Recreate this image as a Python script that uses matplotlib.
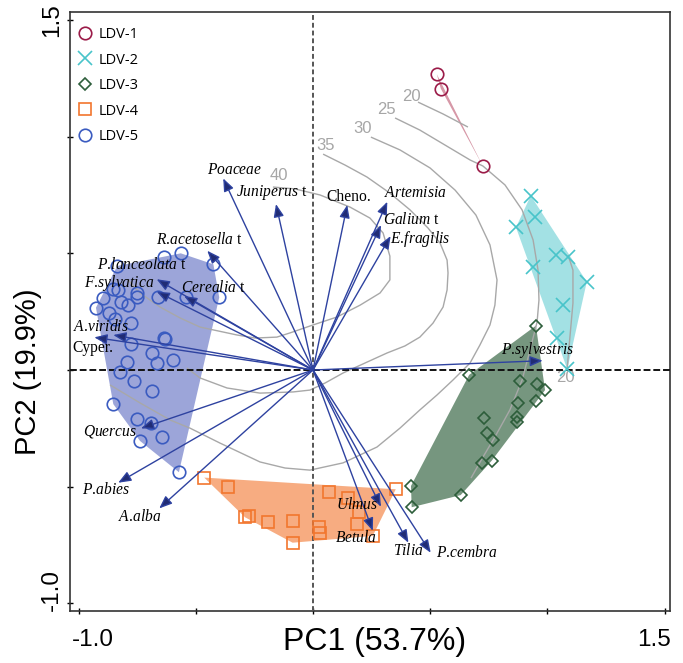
import numpy as np
import matplotlib
matplotlib.use("Agg")
import matplotlib.pyplot as plt

plt.rcParams['mathtext.fontset'] = 'custom'
plt.rcParams['mathtext.it'] = 'Liberation Serif:italic'
plt.rcParams['mathtext.rm'] = 'Liberation Serif'

# ---------------- data ----------------
group_names = ['LDV-1', 'LDV-2', 'LDV-3', 'LDV-4', 'LDV-5']

ldv1_x = [0.528, 0.545, 0.724]
ldv1_y = [1.268, 1.206, 0.875]

ldv2_x = [0.929, 0.948, 0.866, 1.035, 1.089, 0.940, 1.168, 1.068, 1.040, 1.085]
ldv2_y = [0.747, 0.654, 0.611, 0.493, 0.485, 0.440, 0.378, 0.278, 0.136, 0.003]

ldv3_x = [0.951, 0.666, 0.883, 0.954, 0.990, 0.876, 0.950, 0.730, 0.869, 0.869,
          0.741, 0.767, 0.720, 0.762, 0.418, 0.630, 0.421]
ldv3_y = [0.190, -0.021, -0.046, -0.060, -0.086, -0.143, -0.132, -0.207, -0.200, -0.222,
          -0.269, -0.300, -0.397, -0.389, -0.497, -0.536, -0.588]

ldv4_x = [-0.464, -0.364, -0.290, -0.273, -0.191, -0.084, -0.087, 0.027, 0.030,
          0.070, 0.148, 0.196, 0.186, 0.255, 0.353]
ldv4_y = [-0.461, -0.500, -0.631, -0.626, -0.653, -0.647, -0.740, -0.671, -0.698,
          -0.521, -0.547, -0.607, -0.661, -0.711, -0.511]

ldv5_x = [-0.636, -0.564, -0.425, -0.835, -0.852, -0.833, -0.752, -0.750, -0.895, -0.819,
          -0.788, -0.926, -0.870, -0.845, -0.776, -0.660, -0.543, -0.400, -0.636, -0.631,
          -0.776, -0.688, -0.664, -0.596, -0.795, -0.823, -0.764, -0.686, -0.852, -0.752,
          -0.692, -0.738, -0.645, -0.572]
ldv5_y = [0.485, 0.500, 0.453, 0.446, 0.346, 0.343, 0.331, 0.311, 0.307, 0.293,
          0.278, 0.267, 0.243, 0.217, 0.200, 0.314, 0.311, 0.311, 0.138, 0.132,
          0.110, 0.072, 0.031, 0.043, 0.033, -0.007, -0.047, -0.090, -0.146, -0.210,
          -0.226, -0.304, -0.286, -0.438]

species = ['Poaceae', 'Juniperus t', 'Cheno.', 'Artemisia', 'Galium t', 'E.fragilis',
           'R.acetosella t', 'P.lanceolata t', 'F.sylvatica', 'Cerealia t', 'A.viridis',
           'Cyper.', 'Quercus', 'P.abies', 'A.alba', 'Ulmus', 'Betula', 'Tilia',
           'P.cembra', 'P.sylvestris']
species_x = [-0.383, -0.158, 0.146, 0.317, 0.290, 0.331, -0.451, -0.667, -0.667, -0.550,
             -0.852, -0.933, -0.734, -0.831, -0.656, 0.290, 0.255, 0.407, 0.502, 0.980]
species_y = [0.821, 0.711, 0.707, 0.721, 0.621, 0.574, 0.511, 0.389, 0.336, 0.317,
             0.150, 0.140, -0.250, -0.483, -0.593, -0.586, -0.689, -0.740, -0.783, 0.040]

# fitted-surface contour lines
contour_levels = [20, 25, 30, 35, 40, 20]
c20a_x = [0.448, 0.555, 0.661]
c20a_y = [1.148, 1.097, 1.041]
c25_x = [0.350, 0.456, 0.563, 0.670, 0.725, 0.819, 0.892, 0.939, 0.960, 0.964, 0.956,
         0.926, 0.892, 0.840, 0.776, 0.725, 0.674]
c25_y = [1.080, 1.028, 0.964, 0.900, 0.874, 0.793, 0.686, 0.557, 0.428, 0.300, 0.206,
         0.086, -0.043, -0.171, -0.287, -0.373, -0.463]
c30_x = [0.247, 0.371, 0.499, 0.606, 0.695, 0.755, 0.785, 0.776, 0.755, 0.712, 0.670,
         0.597, 0.529, 0.456, 0.371, 0.273, 0.128, -0.013, -0.119, -0.226, -0.397,
         -0.525, -0.610, -0.738, -0.866]
c30_y = [0.998, 0.943, 0.866, 0.771, 0.664, 0.536, 0.386, 0.278, 0.193, 0.107, 0.030,
         -0.043, -0.107, -0.171, -0.249, -0.330, -0.398, -0.429, -0.420, -0.394, -0.313,
         -0.249, -0.214, -0.141, -0.064]
c35_x = [0.043, 0.137, 0.230, 0.328, 0.414, 0.491, 0.542, 0.572, 0.576, 0.572, 0.555,
         0.512, 0.456, 0.392, 0.316, 0.222, 0.128, 0.051, -0.013, -0.085, -0.226, -0.367,
         -0.482, -0.538]
c35_y = [0.925, 0.878, 0.827, 0.758, 0.686, 0.608, 0.544, 0.471, 0.416, 0.343, 0.270,
         0.201, 0.141, 0.103, 0.073, 0.030, -0.013, -0.056, -0.086, -0.094, -0.099,
         -0.077, -0.034, 0.009]
c40_x = [-0.171, -0.077, 0.030, 0.158, 0.243, 0.299, 0.328, 0.328, 0.286, 0.201, 0.102,
         0.000, -0.098, -0.154, -0.247, -0.324, -0.482, -0.567, -0.653, -0.738, -0.789]
c40_y = [0.784, 0.776, 0.750, 0.698, 0.651, 0.587, 0.488, 0.386, 0.330, 0.278, 0.227,
         0.193, 0.159, 0.141, 0.137, 0.150, 0.184, 0.223, 0.270, 0.330, 0.386]
c20b_x = [1.088, 1.109, 1.109, 1.096, 1.084]
c20b_y = [0.493, 0.428, 0.287, 0.141, 0.004]

xtick_vals = [-1.0, -0.5, 0.0, 0.5, 1.0, 1.5]
ytick_vals = [-1.0, -0.5, 0.0, 0.5, 1.0, 1.5]
xtick_labels = {-1.0: '-1.0', 1.5: '1.5'}
ytick_labels = {-1.0: '-1.0', 1.5: '1.5'}
xlabel = 'PC1 (53.7%)'
ylabel = 'PC2 (19.9%)'

# ---------------- style ----------------
group_colors = ['#9B1B48', '#48C4CA', '#2D5E3A', '#F2762E', '#3A5BC0']
fill_colors = ['#B5435F', '#48C4CA', '#2D5E3A', '#F2762E', '#3B4DB5']
fill_alpha = [0.55, 0.5, 0.65, 0.6, 0.5]
markers = ['o', 'x', 'D', 's', 'o']
msizes = [9, 10, 6.5, 8, 9]

# label offsets (points) relative to arrow tips
lab_dx = [8, -3, 1, 20, 22, 21, -6, -11, -27, 21, -9, -1, -22, -9, -14, -17, -12, 0, 26, -4]
lab_dy = [6, 8, 6, 6, 4, -2, 8, 10, 6, 6, 6, -8, -2, -5, -6, 1, -5, -6, 0, 8]

ser = {
    'LDV-1': (ldv1_x, ldv1_y), 'LDV-2': (ldv2_x, ldv2_y), 'LDV-3': (ldv3_x, ldv3_y),
    'LDV-4': (ldv4_x, ldv4_y), 'LDV-5': (ldv5_x, ldv5_y)}
contours = [(c20a_x, c20a_y), (c25_x, c25_y), (c30_x, c30_y), (c35_x, c35_y),
            (c40_x, c40_y), (c20b_x, c20b_y)]
clab_end = [0, 0, 0, 0, 0, -1]
clab_off = [(-5, 4), (-6, 6), (-6, 6), (2, 6), (4, 8.5), (-1, -6)]


def convex_hull(xs, ys):
    pts = sorted(set(zip(xs, ys)))
    if len(pts) < 3:
        return pts

    def cross(o, a, b):
        return (a[0] - o[0]) * (b[1] - o[1]) - (a[1] - o[1]) * (b[0] - o[0])
    lower, upper = [], []
    for p in pts:
        while len(lower) >= 2 and cross(lower[-2], lower[-1], p) <= 0:
            lower.pop()
        lower.append(p)
    for p in reversed(pts):
        while len(upper) >= 2 and cross(upper[-2], upper[-1], p) <= 0:
            upper.pop()
        upper.append(p)
    return lower[:-1] + upper[:-1]


def fmt_label(s):
    if s in ('Cheno.', 'Cyper.'):
        return s
    tail = ''
    if s.endswith(' t'):
        s, tail = s[:-2], ' t'
    s = s.replace('.', r'.\!')
    return r'$\mathit{' + s + r'}$' + tail


# ---------------- figure ----------------
fig = plt.figure(figsize=(6.83, 6.63), dpi=100)
ax = fig.add_axes([70 / 683, 1 - 611 / 663, 600 / 683, 599 / 663])
ax.set_xlim(-1.0367, 1.523)
ax.set_ylim(-1.0326, 1.534)

# hulls
for i, g in enumerate(group_names):
    hx, hy = zip(*convex_hull(*ser[g]))
    ax.fill(hx, hy, color=fill_colors[i], alpha=fill_alpha[i], lw=0, zorder=1)

# contours
for k, (cx, cy) in enumerate(contours):
    ax.plot(cx, cy, color='#A8A8A8', lw=1.0, zorder=2, solid_capstyle='butt')
    e = clab_end[k]
    ax.annotate(str(contour_levels[k]), (cx[e], cy[e]), xytext=clab_off[k],
                textcoords='offset points', ha='center', va='center',
                color='#A6A6A6', fontsize=12, family='Liberation Sans', zorder=2)

# zero lines
ax.axvline(0, color='#555555', lw=1.4, ls=(0, (2.5, 1.5)), zorder=3)
ax.axhline(0, color='#111111', lw=1.4, ls=(0, (3.5, 1.5)), zorder=3)

# points
for i, g in enumerate(group_names):
    gx, gy = ser[g]
    ax.plot(gx, gy, ls='none', marker=markers[i], ms=msizes[i], mfc='none',
            mec=group_colors[i], mew=1.2, label=g, zorder=4)

# arrows
for i, s in enumerate(species):
    ax.annotate('', xy=(species_x[i], species_y[i]), xytext=(0, 0),
                arrowprops=dict(arrowstyle='-|>,head_length=0.55,head_width=0.22',
                                mutation_scale=14, lw=1.0, edgecolor='#2E42A0',
                                facecolor='#212C74', shrinkA=0, shrinkB=0),
                zorder=5)
    ax.annotate(fmt_label(s), (species_x[i], species_y[i]),
                xytext=(lab_dx[i], lab_dy[i]), textcoords='offset points',
                ha='center', va='center', fontsize=11.2, family='Liberation Serif',
                color='black', zorder=6)

# axes styling
ax.set_xticks(xtick_vals)
ax.set_yticks(ytick_vals)
ax.set_xticklabels([])
ax.set_yticklabels([])
ax.tick_params(direction='inout', length=5, width=1)
# end tick labels (shifted inward as in the original)
for v, t in xtick_labels.items():
    dx = 10 if v == min(xtick_vals) else -7.5
    ax.annotate(t, xy=(v, 0), xycoords=('data', 'axes fraction'), xytext=(dx, -13),
                textcoords='offset points', ha='center', va='top', fontsize=17.5,
                family='Liberation Sans')
for v, t in ytick_labels.items():
    dy = 10 if v == min(ytick_vals) else 0
    ax.annotate(t, xy=(0, v), xycoords=('axes fraction', 'data'), xytext=(-5, dy),
                textcoords='offset points', ha='right', va='center', rotation=90,
                fontsize=17.5, family='Liberation Sans')
for sp in ax.spines.values():
    sp.set_linewidth(1.2)
    sp.set_color('#333333')

ax.set_xlabel(xlabel, fontsize=23, family='Liberation Sans')
ax.set_ylabel(ylabel, fontsize=21, family='Liberation Sans')
ax.xaxis.set_label_coords(0.508, -0.026)
ax.yaxis.set_label_coords(-0.047, 0.399)

leg = ax.legend(loc='upper left', bbox_to_anchor=(-0.005, 0.992), frameon=False,
                handlelength=1.0, handletextpad=0.45, labelspacing=0.72,
                borderaxespad=0.3, prop={'family': 'Open Sans', 'size': 10.5})

fig.savefig('out.png', dpi=100)
